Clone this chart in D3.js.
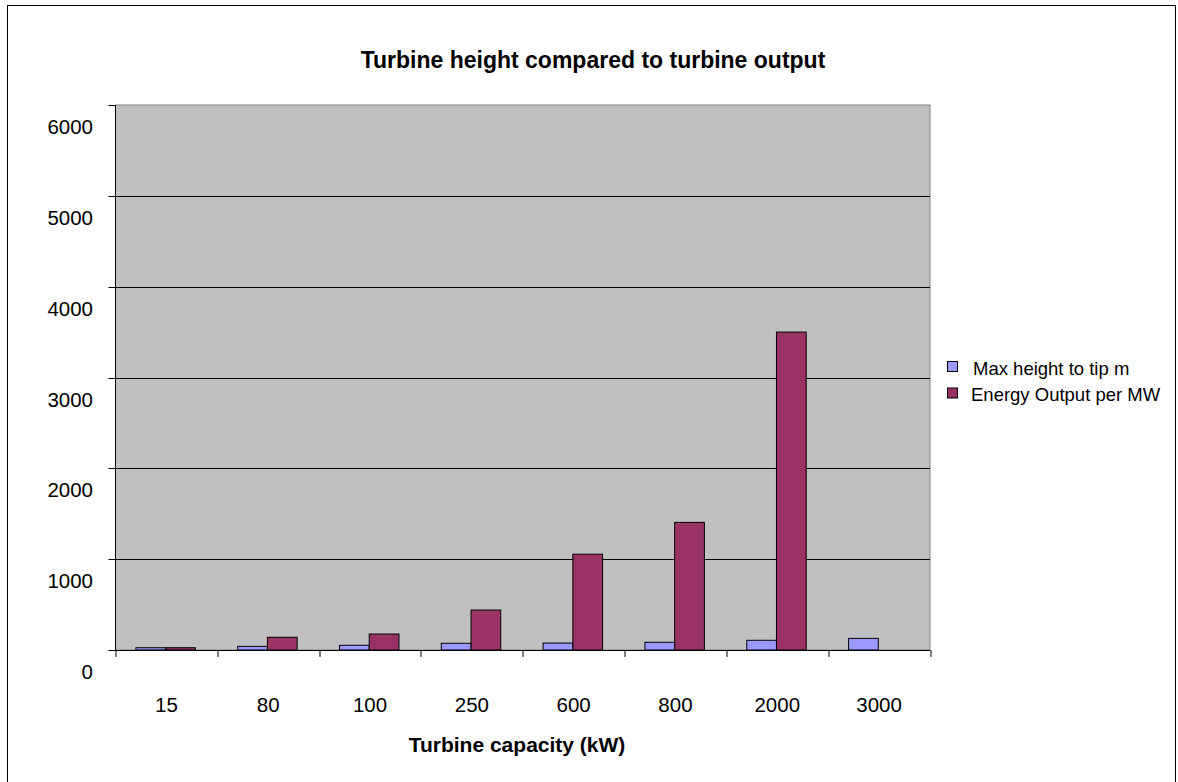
<!DOCTYPE html>
<html>
<head>
<meta charset="utf-8">
<script src="https://cdn.jsdelivr.net/npm/d3@7"></script>
<style>
  body { margin: 0; background: #fff; }
  text { font-family: "Liberation Sans", Arial, sans-serif; }
</style>
</head>
<body>
<div id="chart"></div>
<script>
// data
var capacities = ["15", "80", "100", "250", "600", "800", "2000", "3000"];
var maxHeight = [25, 40, 52, 74, 76, 85, 107, 128];
var energyOutput = [25, 140, 176, 440, 1055, 1405, 3500, 0];
var seriesNames = ["Max height to tip m", "Energy Output per MW"];
var yTicks = [0, 1000, 2000, 3000, 4000, 5000, 6000];

var colors = ["#9999ff", "#993366"];

var margin = {top: 105, left: 115.5, right: 248, bottom: 132},
    width = 930 - margin.left,
    height = 650 - margin.top;

var svg = d3.select("#chart")
  .append("svg")
  .attr("width", 1178)
  .attr("height", 782);

// outer frame
svg.append("rect")
  .attr("x", 7.5).attr("y", 5.5)
  .attr("width", 1168).attr("height", 790)
  .attr("fill", "none")
  .attr("stroke", "#000")
  .attr("stroke-width", 1);

svg.append("text")
  .attr("x", 593)
  .attr("y", 68)
  .attr("text-anchor", "middle")
  .style("font-size", "23px")
  .style("font-weight", "bold")
  .text("Turbine height compared to turbine output");

var g = svg.append("g").attr("transform", `translate(${margin.left},${margin.top})`);

var x = d3.scaleBand().domain(capacities).range([0, width]);
var y = d3.scaleLinear().domain([0, 6000]).range([height, 0]);

g.append("rect")
  .attr("width", width).attr("height", height)
  .attr("fill", "#c0c0c0")
  .attr("stroke", "#808080");

// gridlines
g.selectAll(".grid")
  .data(yTicks.filter(d => d > 0 && d < 6000))
  .enter().append("line")
  .attr("x1", 0).attr("x2", width)
  .attr("y1", d => Math.round(y(d)) + 0.5).attr("y2", d => Math.round(y(d)) + 0.5)
  .attr("stroke", "#000");

// bars
var bw = x.bandwidth() * 0.292;
var off = x.bandwidth() * 0.2;
[maxHeight, energyOutput].forEach(function(vals, s) {
  g.selectAll(".bar" + s)
    .data(vals)
    .enter().append("rect")
    .attr("x", (d, i) => x(capacities[i]) + off + s * bw)
    .attr("y", d => y(d))
    .attr("width", bw)
    .attr("height", d => height - y(d))
    .attr("fill", colors[s])
    .attr("stroke", d => d > 0 ? "#000" : "none")
    .attr("stroke-width", 1);
});

// y axis line + ticks
g.append("line").attr("x1", 0).attr("x2", 0).attr("y1", 0).attr("y2", height).attr("stroke", "#000");
g.selectAll(".ytick")
  .data(yTicks)
  .enter().append("line")
  .attr("x1", -7).attr("x2", 0)
  .attr("y1", d => Math.round(y(d)) + 0.5).attr("y2", d => Math.round(y(d)) + 0.5)
  .attr("stroke", "#000");
g.selectAll(".ylab")
  .data(yTicks)
  .enter().append("text")
  .attr("x", 93 - margin.left)
  .attr("y", d => y(d) + 29)
  .attr("text-anchor", "end")
  .style("font-size", "20.5px")
  .text(d => d);

// x axis line + ticks
g.append("line").attr("x1", 0).attr("x2", width).attr("y1", height + 0.5).attr("y2", height + 0.5).attr("stroke", "#000");
g.selectAll(".xtick")
  .data(capacities.concat(["end"]))
  .enter().append("line")
  .attr("x1", (d, i) => Math.round(i * x.step()) + 0.5)
  .attr("x2", (d, i) => Math.round(i * x.step()) + 0.5)
  .attr("y1", height).attr("y2", height + 7)
  .attr("stroke", "#000");
g.selectAll(".xlab")
  .data(capacities)
  .enter().append("text")
  .attr("x", d => x(d) + x.bandwidth() / 2)
  .attr("y", height + 62)
  .attr("text-anchor", "middle")
  .style("font-size", "20.5px")
  .text(d => d);

svg.append("text")
  .attr("x", 517)
  .attr("y", 752)
  .attr("text-anchor", "middle")
  .style("font-size", "21px")
  .style("font-weight", "bold")
  .text("Turbine capacity (kW)");

// legend
var legend = svg.append("g").attr("transform", "translate(947,361)");
seriesNames.forEach(function(name, i) {
  legend.append("rect")
    .attr("x", 0.5).attr("y", i * 26.5 + 0.5)
    .attr("width", 10).attr("height", 10)
    .attr("fill", colors[i])
    .attr("stroke", "#000");
  legend.append("text")
    .attr("x", i === 0 ? 26 : 24)
    .attr("y", i * 26 + 14)
    .style("font-size", "18.5px")
    .text(name);
});
</script>
</body>
</html>
